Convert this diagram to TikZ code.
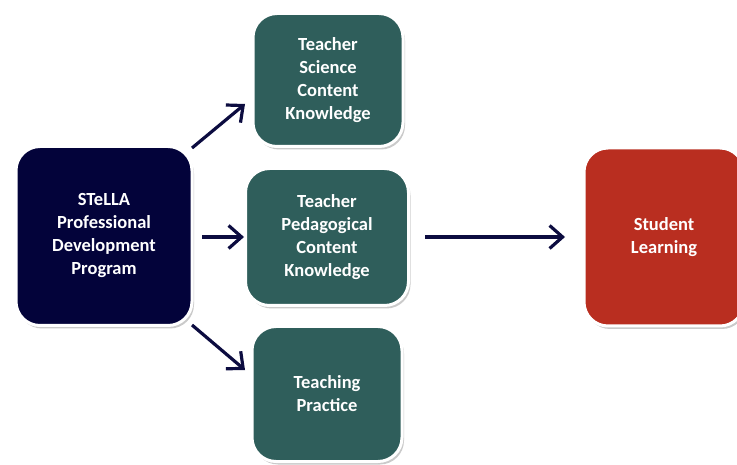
\documentclass[tikz,border=0pt]{standalone}
\usepackage{fontspec}
\setmainfont{Carlito}
\usetikzlibrary{arrows.meta,shadows}
\definecolor{navybox}{HTML}{03033A}
\definecolor{tealbox}{HTML}{2F5E5B}
\definecolor{redbox}{HTML}{B92E20}
\definecolor{arrowc}{HTML}{0C0C40}
\tikzset{
  box/.style={rounded corners=24pt, draw=white, line width=3pt, inner sep=0pt,
    align=center, text=white, font=\fontsize{18.5}{23}\selectfont\bfseries,
    drop shadow={shadow xshift=2pt, shadow yshift=-3pt, opacity=0.35, fill=black!60}},
  conn/.style={draw=arrowc, line width=3.2pt, -{Straight Barb[length=13pt,width=23pt,line width=3.2pt]}}
}
\begin{document}
\begin{tikzpicture}[x=1pt,y=-1pt]
\useasboundingbox (0,0) rectangle (737,465);
\node[box, fill=navybox, minimum width=176pt, minimum height=179pt] (stella) at (104,236) {STeLLA\\Professional\\Development\\Program};
\node[box, fill=tealbox, minimum width=150pt, minimum height=133pt] (scik) at (328,80) {Teacher\\Science\\Content\\Knowledge};
\node[box, fill=tealbox, minimum width=163pt, minimum height=137pt] (pck) at (327,237) {Teacher\\Pedagogical\\Content\\Knowledge};
\node[box, fill=tealbox, minimum width=150pt, minimum height=135pt] (prac) at (327,394) {Teaching\\Practice};
\node[box, fill=redbox, minimum width=160pt, minimum height=178pt] (learn) at (664,237) {Student\\Learning};
\coordinate (a1s) at (192,148); \coordinate (a1e) at (245,104);
\coordinate (a2s) at (202,237); \coordinate (a2e) at (244,237);
\coordinate (a3s) at (192,325); \coordinate (a3e) at (245,370);
\coordinate (a4s) at (425,237); \coordinate (a4e) at (565,237);
\draw[conn] (a1s) -- (a1e);
\draw[conn] (a2s) -- (a2e);
\draw[conn] (a3s) -- (a3e);
\draw[conn] (a4s) -- (a4e);
\end{tikzpicture}
\end{document}
